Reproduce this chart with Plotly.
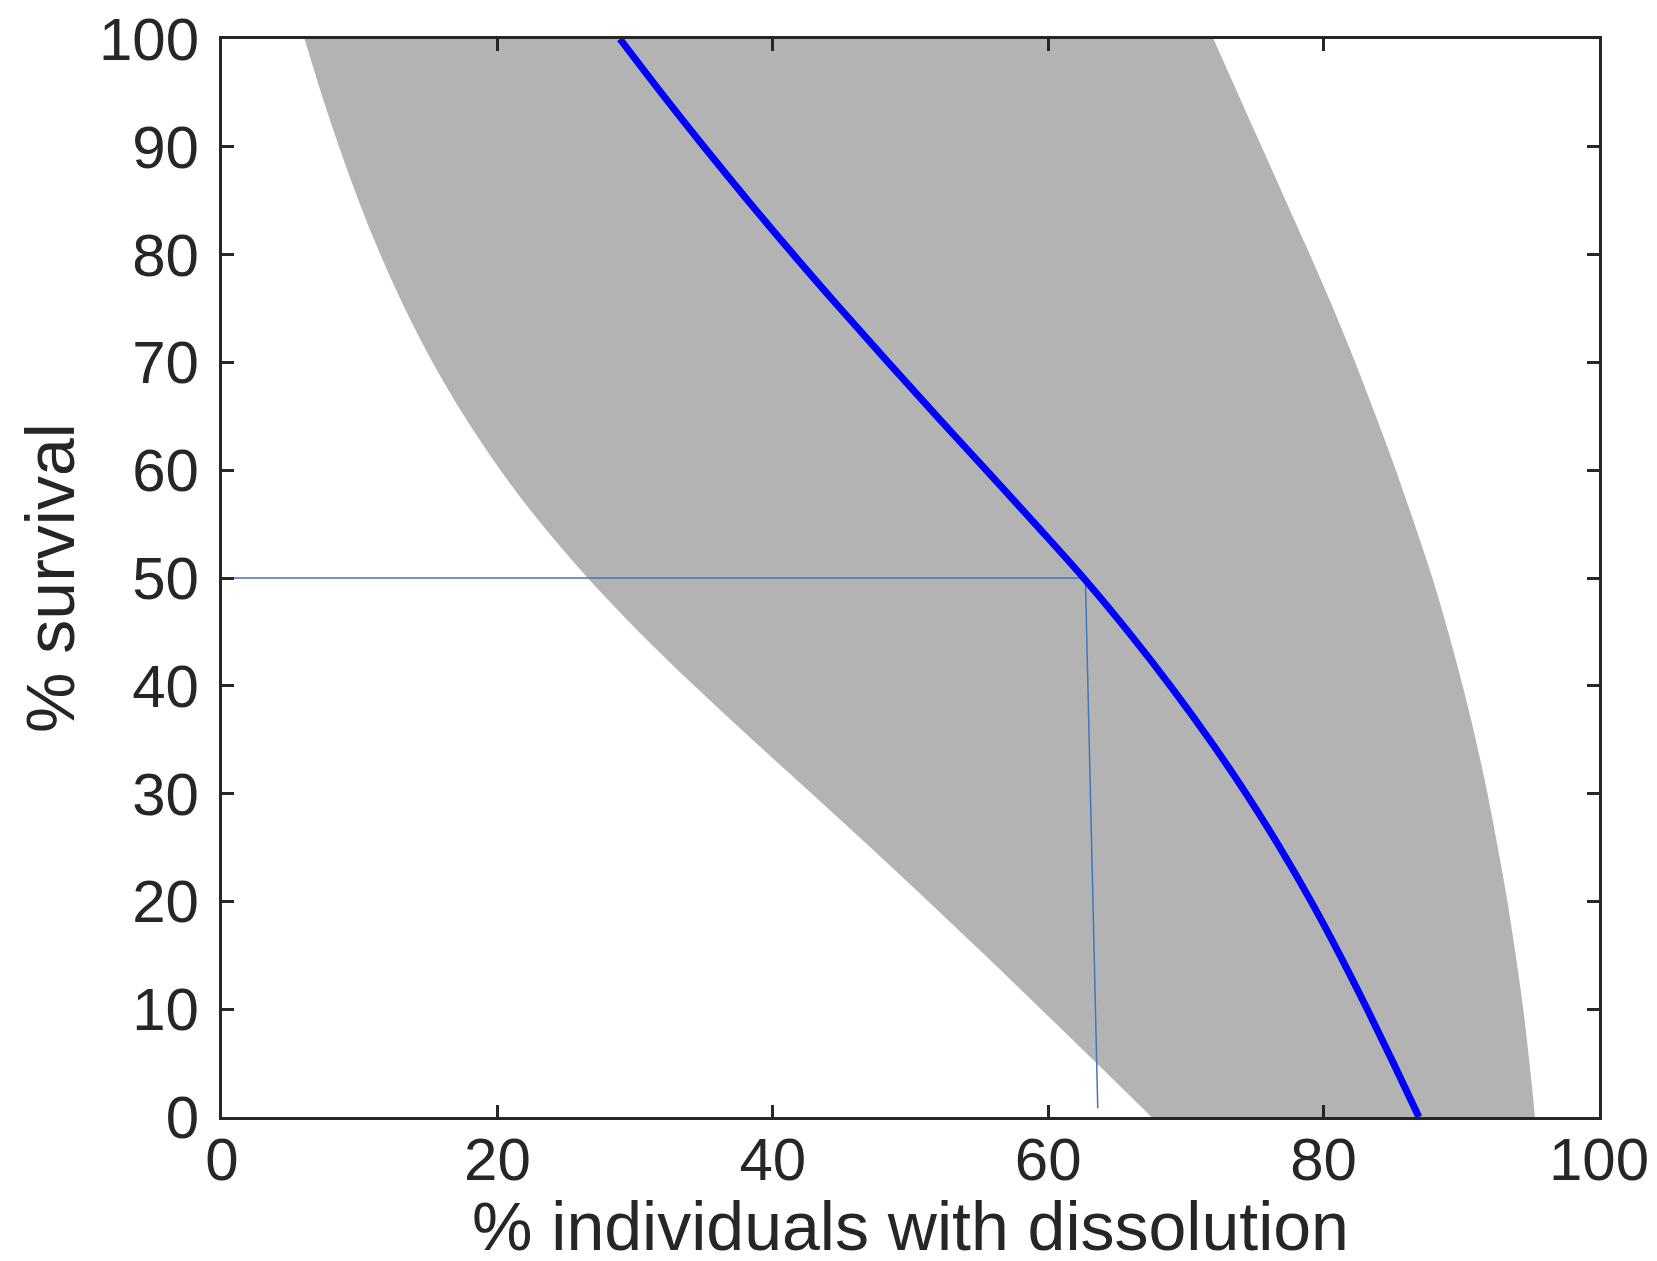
import plotly.graph_objects as go

# survival levels (%)
survival = [100, 95, 90, 85, 80, 75, 70, 65, 60, 55, 50, 45, 40, 35, 30, 25, 20, 15, 10, 5, 0]
# % individuals with dissolution: central estimate and confidence band
central = [28.9, 31.9, 35.0, 38.2, 41.5, 44.9, 48.38, 51.92, 55.5, 59.07, 62.57, 65.82, 68.87, 71.72, 74.37, 76.82, 79.09, 81.19, 83.17, 85.07, 86.92]
band_low = [6.0, 7.2, 8.5, 9.92, 11.5, 13.28, 15.3, 17.6, 20.22, 23.2, 26.56, 30.28, 34.3, 38.52, 42.82, 47.1, 51.3, 55.42, 59.48, 63.5, 67.5]
band_high = [72.0, 73.75, 75.5, 77.25, 79.0, 80.7, 82.3, 83.8, 85.25, 86.6, 87.9, 89.05, 90.1, 91.05, 91.9, 92.65, 93.35, 93.95, 94.5, 94.95, 95.35]
# 50% survival guide line
guide_x = [0, 62.7, 63.6]
guide_y = [50, 50, 0.8]

tick_vals_x = [0, 20, 40, 60, 80, 100]
tick_vals_y = [0, 10, 20, 30, 40, 50, 60, 70, 80, 90, 100]

FONT = "Liberation Sans, Arial, Helvetica, sans-serif"
TXT = "#262626"

fig = go.Figure()
fig.add_trace(go.Scatter(
    x=band_low, y=survival, mode="lines", line=dict(width=0, shape="spline"),
    hoverinfo="skip", showlegend=False))
fig.add_trace(go.Scatter(
    x=band_high, y=survival, mode="lines", line=dict(width=0, shape="spline"),
    fill="tonextx", fillcolor="#b3b3b3", hoverinfo="skip", showlegend=False))
fig.add_trace(go.Scatter(
    x=guide_x, y=guide_y, mode="lines",
    line=dict(color="rgb(64,118,190)", width=1.5), showlegend=False))
fig.add_trace(go.Scatter(
    x=central, y=survival, mode="lines",
    line=dict(color="#0000ff", width=7, shape="spline"), showlegend=False))

axis_common = dict(
    showline=True, linecolor=TXT, linewidth=3, mirror="ticks",
    ticks="inside", ticklen=12, tickwidth=3, tickcolor=TXT,
    showgrid=False, zeroline=False, automargin=False,
    ticklabeloverflow="allow",
    tickfont=dict(family=FONT, size=60, color=TXT),
)

# the page body adds an 8 px offset; the figure is sized so the plot area lands
# where the reference has it
fig.update_layout(
    width=1649, height=1253,
    margin=dict(l=214, r=58, t=31, b=144),
    plot_bgcolor="white", paper_bgcolor="white",
    xaxis=dict(range=[0, 100], tickvals=tick_vals_x, ticklabelstandoff=-12, **axis_common),
    yaxis=dict(range=[0, 100], tickvals=tick_vals_y, ticklabelstandoff=8, **axis_common),
    annotations=[
        dict(text="% individuals with dissolution", xref="paper", yref="paper",
             x=0.5, y=-(1226 - 1117) / 1078, xanchor="center", yanchor="middle",
             showarrow=False, font=dict(family=FONT, size=68, color=TXT)),
        dict(text="% survival", xref="paper", yref="paper",
             x=(50 - 222) / 1377, y=0.5, xanchor="center", yanchor="middle", textangle=-90,
             showarrow=False, font=dict(family=FONT, size=68, color=TXT)),
    ],
)

fig.write_html("out.html")
